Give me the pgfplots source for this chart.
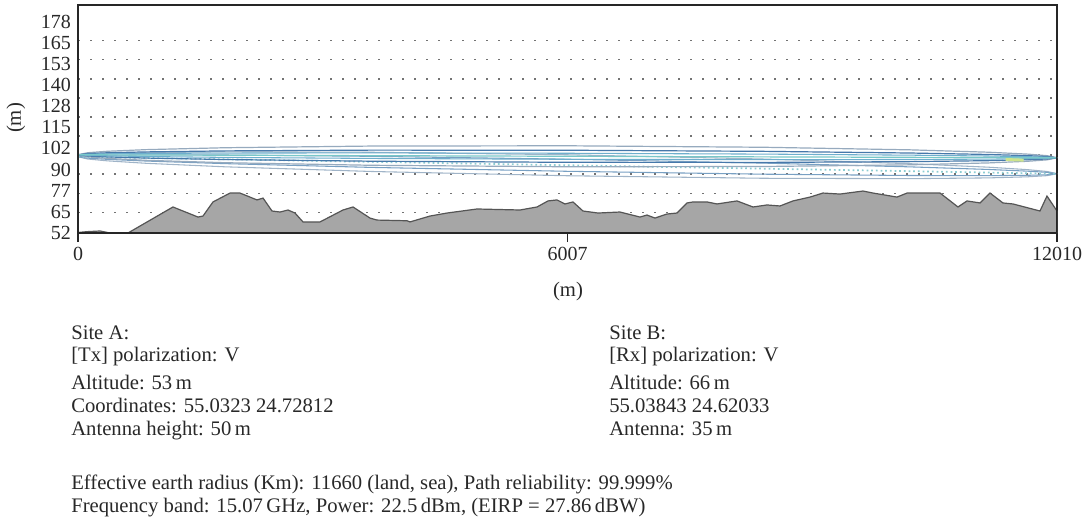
\documentclass[border=0pt]{standalone}
\usepackage{fontspec}
\setmainfont{Liberation Serif}
\usepackage{pgfplots}
\pgfplotsset{compat=1.18}
\definecolor{terrainfill}{RGB}{166,166,166}
\definecolor{terrainline}{RGB}{85,85,85}
\definecolor{cAouter}{RGB}{150,170,190}
\definecolor{cAmid}{RGB}{70,120,170}
\definecolor{cAinner}{RGB}{110,175,205}
\definecolor{cAcenter}{RGB}{120,200,200}
\definecolor{cBouter}{RGB}{160,180,200}
\definecolor{cBmid}{RGB}{120,160,195}
\definecolor{cBcenter}{RGB}{140,205,210}
\definecolor{txt}{RGB}{40,40,40}
\newcommand\tf{\fontsize{15}{18}\selectfont}
\newcommand\bodyf{\fontsize{15.5}{18}\selectfont}
\begin{document}
\begin{tikzpicture}[x=0.75pt,y=-0.75pt]
\path[use as bounding box] (0,0) rectangle (1088,517);
\begin{axis}[
  at={(58.5pt,-174.75pt)}, anchor=south west,
  width=734.25pt, height=171pt, scale only axis,
  xmin=0, xmax=12010, ymin=52, ymax=187.8,
  scaled x ticks=false, scaled y ticks=false,
  axis line style={line width=0.8pt, black!85},
  xtick={0,6007,12010}, xticklabels={0,6007,12010},
  ytick={52,64.6,77.2,89.8,102.4,115,127.6,140.2,152.8,165.4,178},
  yticklabels={52,65,77,90,102,115,128,140,153,165,178},
  xtick pos=bottom, ytick pos=left,
  tick align=outside, major tick length=6.75pt,
  xtick style={black!85, line width=0.8pt},
  ytick style={draw=none},
  extra y ticks={64.27,75.64,87.02,98.39,109.77,121.14,132.52,143.89,155.26,166.64},
  extra y tick labels={},
  extra y tick style={grid=major, tick style={draw=none},
     major grid style={draw=black!55, line width=1.2pt, dash pattern=on 1.2pt off 7.8pt}},
  ticklabel style={font=\tf, text=txt},
  yticklabel style={xshift=5pt},
  /pgf/number format/assume math mode=true,
]
% Fresnel zone A: white fill of outer lens
\addplot[fill=white, draw=none] coordinates {
 (0,98.60) (120,99.82) (360,100.68) (841,101.66) (1802,102.79) (3603,103.79) (6005,103.95) (8407,103.07) (10209,101.53) (11169,100.12) (11650,98.98) (11890,98.06) (12010,96.80)
 (11890,95.58) (11650,94.72) (11169,93.74) (10209,92.61) (8407,91.61) (6005,91.45) (3603,92.33) (1802,93.87) (841,95.28) (360,96.42) (120,97.34) (0,98.60)} -- cycle;
% Fresnel zone B
\addplot[cBouter, line width=0.8pt] coordinates {
 (0,97.40) (120,98.54) (360,99.23) (841,99.88) (1802,100.35) (3603,100.10) (6005,98.60) (8407,96.06) (10209,93.28) (11169,91.20) (11650,89.73) (11890,88.64) (12010,87.30)
 (11890,86.16) (11650,85.47) (11169,84.82) (10209,84.36) (8407,84.60) (6005,86.10) (3603,88.64) (1802,91.43) (841,93.50) (360,94.97) (120,96.06) (0,97.40)};
\addplot[cBmid, line width=0.8pt] coordinates {
 (0,97.40) (120,98.02) (360,98.33) (841,98.53) (1802,98.46) (3603,97.67) (6005,95.95) (8407,93.63) (10209,91.39) (11169,89.85) (11650,88.83) (11890,88.12) (12010,87.30)
 (11890,86.68) (11650,86.37) (11169,86.17) (10209,86.25) (8407,87.03) (6005,88.75) (3603,91.07) (1802,93.32) (841,94.85) (360,95.87) (120,96.58) (0,97.40)};
\addplot[cBcenter, line width=1.3pt, dash pattern=on 1.3pt off 2.2pt] coordinates {
 (0,97.40) (120,97.30) (360,97.10) (841,96.69) (1802,95.89) (3603,94.37) (6005,92.35) (8407,90.33) (10209,88.82) (11169,88.01) (11650,87.60) (11890,87.40) (12010,87.30)};
% Fresnel zone A lines
\addplot[cAouter, line width=0.9pt] coordinates {
 (0,98.60) (120,99.82) (360,100.68) (841,101.66) (1802,102.79) (3603,103.79) (6005,103.95) (8407,103.07) (10209,101.53) (11169,100.12) (11650,98.98) (11890,98.06) (12010,96.80)
 (11890,95.58) (11650,94.72) (11169,93.74) (10209,92.61) (8407,91.61) (6005,91.45) (3603,92.33) (1802,93.87) (841,95.28) (360,96.42) (120,97.34) (0,98.60)};
\addplot[cAmid, line width=0.9pt] coordinates {
 (0,98.60) (120,99.30) (360,99.78) (841,100.31) (1802,100.90) (3603,101.36) (6005,101.30) (8407,100.64) (10209,99.64) (11169,98.77) (11650,98.08) (11890,97.54) (12010,96.80)
 (11890,96.10) (11650,95.62) (11169,95.09) (10209,94.50) (8407,94.04) (6005,94.10) (3603,94.76) (1802,95.76) (841,96.63) (360,97.32) (120,97.86) (0,98.60)};
\addplot[cAinner, line width=0.8pt] coordinates {
 (0,98.60) (120,98.94) (360,99.16) (841,99.39) (1802,99.62) (3603,99.71) (6005,99.50) (8407,98.99) (10209,98.36) (11169,97.85) (11650,97.46) (11890,97.18) (12010,96.80)
 (11890,96.46) (11650,96.24) (11169,96.01) (10209,95.78) (8407,95.69) (6005,95.90) (3603,96.41) (1802,97.04) (841,97.55) (360,97.94) (120,98.22) (0,98.60)};
\addplot[cAcenter, line width=0.9pt] coordinates {
 (0,98.60) (120,98.58) (360,98.55) (841,98.47) (1802,98.33) (3603,98.06) (6005,97.70) (8407,97.34) (10209,97.07) (11169,96.93) (11650,96.85) (11890,96.82) (12010,96.80)};
\addplot[color={rgb,255:red,205;green,228;blue,140}, line width=2.2pt] coordinates {(11380,95.8) (11600,95.4)};
% Terrain
\addplot[fill=terrainfill, draw=terrainline, line width=0.9pt] coordinates {
 (0,52.3) (110,52.8) (270,53.2) (393,52.0) (613,52.0) (1165,67.5) (1472,61.5) (1533,62.1) (1656,70.5) (1865,75.8) (1987,75.8) (2196,71.7) (2270,72.8) (2380,65.1) (2478,64.5) (2576,65.7) (2662,63.9) (2760,58.6) (2969,58.6) (3251,65.7) (3374,67.5) (3582,60.9) (3668,59.7) (4036,59.3) (4073,58.6) (4318,62.1) (4527,63.9) (4895,66.3) (5422,65.7) (5631,67.5) (5766,71.1) (5876,71.7) (5974,69.3) (6072,70.5) (6195,65.1) (6379,63.9) (6649,64.5) (6894,61.5) (6980,62.7) (7078,60.9) (7225,63.3) (7348,63.9) (7471,69.9) (7545,70.5) (7716,70.5) (7839,69.3) (8084,71.1) (8281,67.5) (8452,68.7) (8612,68.1) (8771,71.1) (8980,73.4) (9139,75.8) (9348,75.2) (9630,77.0) (9753,75.8) (10047,73.4) (10170,75.8) (10575,75.8) (10795,67.5) (10906,71.1) (11065,69.9) (11188,75.8) (11347,69.9) (11470,69.3) (11801,65.1) (11887,74.0) (12010,65.1)} \closedcycle;
\draw[line width=0.8pt, black!85] (rel axis cs:0,0) rectangle (rel axis cs:1,1);
\end{axis}
\node[font=\bodyf, text=txt, inner sep=0pt] at (568,292) {(m)};
\node[font=\bodyf, text=txt, inner sep=0pt, rotate=90] at (16,118) {(m)};
\begin{scope}[every node/.style={font=\bodyf, text=txt, inner sep=0pt, anchor=base west}]
\node at (71,339.5) {Site A:};
\node at (71,361.5) {[Tx] polarization: V};
\node at (71,389.5) {Altitude: 53\,m};
\node at (71,412.5) {Coordinates: 55.0323 24.72812};
\node at (71,435.5) {Antenna height: 50\,m};
\node at (609,339.5) {Site B:};
\node at (609,361.5) {[Rx] polarization: V};
\node at (609,389.5) {Altitude: 66\,m};
\node at (609,412.5) {55.03843 24.62033};
\node at (609,435.5) {Antenna: 35\,m};
\node at (71,489) {Effective earth radius (Km): 11660 (land, sea), Path reliability: 99.999\%};
\node at (71,512) {Frequency band: 15.07\,GHz, Power: 22.5\,dBm, (EIRP = 27.86\,dBW)};
\end{scope}
\end{tikzpicture}
\end{document}
